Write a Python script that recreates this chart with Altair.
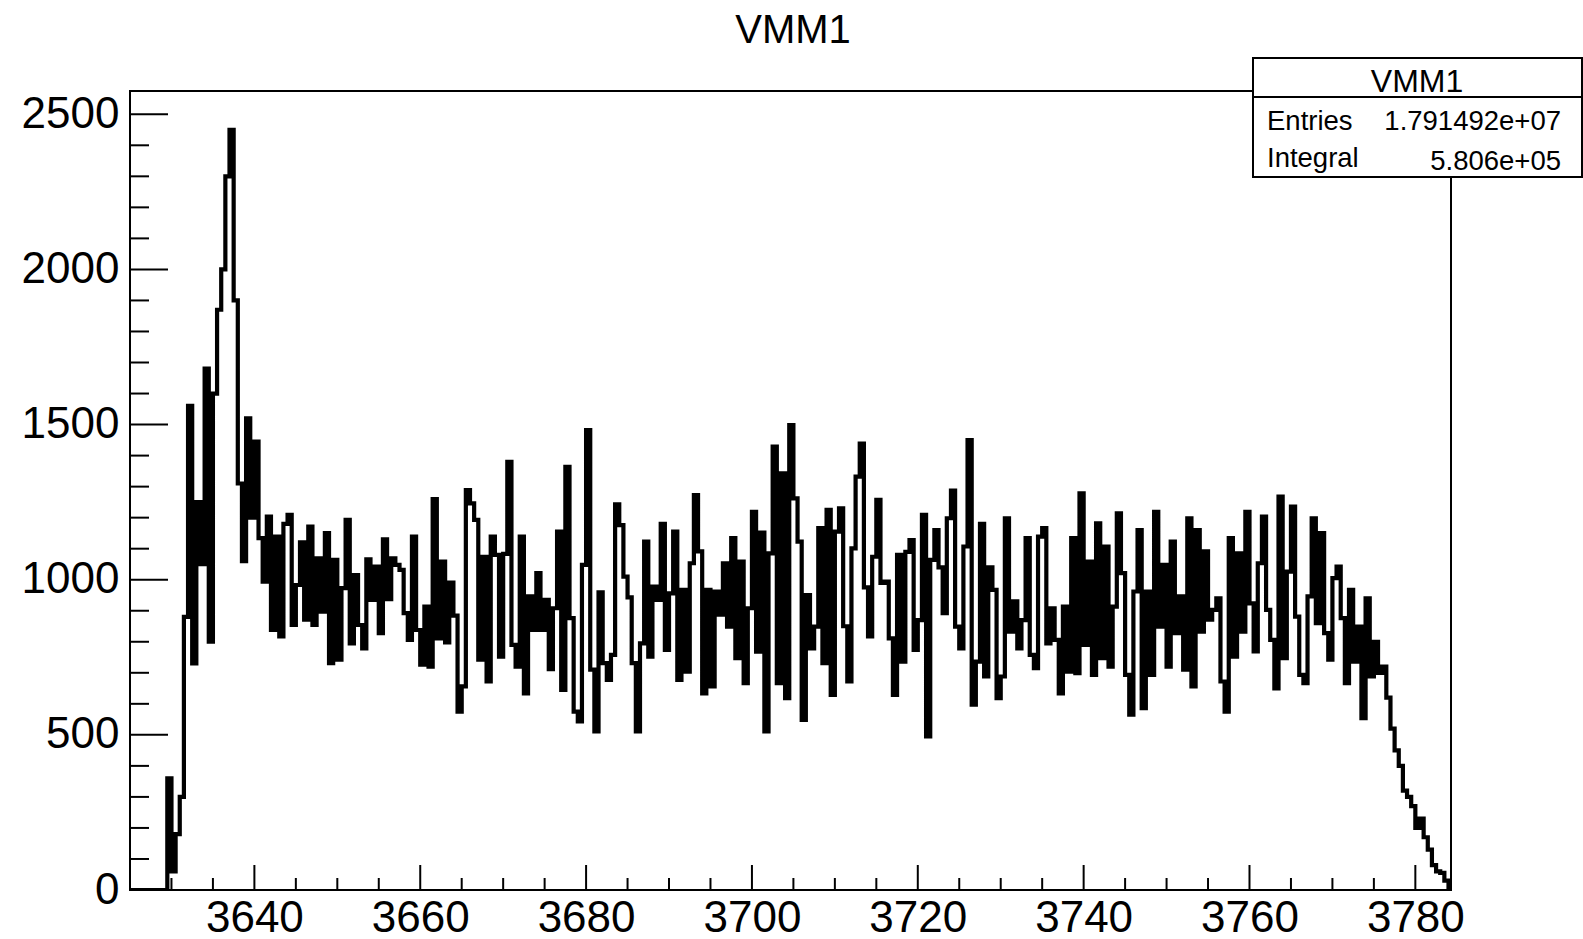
import altair as alt
import pandas as pd

# ---------------- data ----------------
BIN_START = 3625.0
BIN_WIDTH = 0.5

# bin contents, 0.5-wide bins starting at 3625
counts_3625 = [0, 0, 0, 0, 0, 0, 0, 0, 0, 360, 60, 180, 300, 880, 1560, 730, 1250, 1050, 1680, 800,
               1600, 1870, 2000, 2300, 2450, 1900, 1310, 1060, 1520, 1200]
counts_3640 = [1445, 1134, 994, 1203, 838, 1139, 817, 1180, 1209, 854, 983, 1120, 871, 1171, 854, 1069, 897, 1150, 731, 1064,
               742, 973, 1193, 795, 1015, 854, 779, 1066, 935, 1042, 828, 1130, 937, 1069, 1048, 1032, 892, 806, 1139, 838]
counts_3660 = [726, 913, 720, 1260, 811, 1058, 798, 991, 884, 575, 656, 1289, 1246, 1193, 742, 1074, 672, 1139, 1080, 752,
               1083, 1380, 790, 720, 1139, 634, 946, 838, 1021, 838, 935, 712, 908, 1155, 645, 1364, 876, 575, 543, 1048]
counts_3680 = [1482, 710, 511, 959, 731, 677, 758, 1243, 1176, 1010, 943, 731, 511, 795, 1123, 752, 978, 935, 1180, 774,
               956, 1155, 677, 967, 704, 1053, 1273, 1091, 634, 967, 656, 962, 887, 1053, 849, 1134, 747, 1058, 667, 908]
counts_3700 = [1219, 768, 1152, 511, 1085, 1429, 667, 1343, 618, 1498, 1262, 1123, 548, 950, 779, 849, 1166, 731, 1225, 629,
               1155, 1230, 850, 672, 1101, 1332, 1439, 975, 817, 1074, 1257, 990, 994, 811, 629, 1080, 736, 1090, 1128, 774]
counts_3720 = [870, 1209, 495, 1064, 1160, 1040, 892, 1198, 1287, 849, 779, 1107, 1450, 597, 736, 1180, 688, 1040, 967, 618,
               688, 1198, 833, 930, 779, 870, 1134, 758, 715, 1139, 1166, 795, 908, 806, 634, 913, 704, 1134, 699, 1278]
counts_3740 = [790, 1058, 693, 1182, 747, 1107, 720, 913, 1214, 1021, 693, 565, 962, 1160, 586, 962, 693, 1219, 849, 1048,
               720, 1123, 828, 946, 710, 1198, 656, 1160, 833, 1091, 871, 903, 940, 672, 575, 1134, 752, 1085, 833, 1219]
counts_3760 = [924, 769, 1053, 1203, 903, 806, 650, 1268, 747, 1026, 1236, 881, 693, 667, 946, 1198, 860, 1150, 828, 742,
               1005, 1042, 876, 667, 967, 736, 849, 554, 940, 688, 800, 700, 720, 620, 520, 450, 400, 320, 300, 270]
counts_3780 = [200, 230, 170, 130, 80, 60, 55, 30, 0]

counts = (counts_3625 + counts_3640 + counts_3660 + counts_3680 + counts_3700
          + counts_3720 + counts_3740 + counts_3760 + counts_3780)
edges = [BIN_START + BIN_WIDTH * i for i in range(len(counts) + 1)]
hist = pd.DataFrame({"x": edges, "count": counts + [counts[-1]]})

x_major = [3640, 3660, 3680, 3700, 3720, 3740, 3760, 3780]
x_minor = [3630, 3635, 3645, 3650, 3655, 3665, 3670, 3675, 3685, 3690, 3695, 3705, 3710, 3715,
           3725, 3730, 3735, 3745, 3750, 3755, 3765, 3770, 3775]
y_major = [0, 500, 1000, 1500, 2000, 2500]
y_minor = [100, 200, 300, 400, 600, 700, 800, 900, 1100, 1200, 1300, 1400, 1600, 1700, 1800, 1900,
           2100, 2200, 2300, 2400]

title_text = ["VMM1"]
stats_title = ["VMM1"]
stats_names = ["Entries", "Integral"]
stats_values = ["1.791492e+07", "5.806e+05"]

X_DOMAIN = [3625.0, 3784.3]
Y_DOMAIN = [0, 2575]

# ---------------- layout ----------------
W, H = 1321, 799
FONT = "Liberation Sans"

xs = alt.Scale(domain=X_DOMAIN, nice=False, zero=False)
ys = alt.Scale(domain=Y_DOMAIN, nice=False, zero=False)

xaxis = alt.Axis(values=x_major, format="d", ticks=False, domain=False, grid=False,
                 labelFontSize=44, labelFont=FONT, labelColor="black", labelPadding=6,
                 labelFlush=False, labelOverlap=False, title=None)
yaxis = alt.Axis(values=y_major, format="d", ticks=False, domain=False, grid=False,
                 labelFontSize=44, labelFont=FONT, labelColor="black", labelPadding=11,
                 labelFlush=False, labelOverlap=False, title=None)

line = alt.Chart(hist).mark_line(
    interpolate="step-after", color="black", strokeWidth=4.2, clip=True,
    strokeJoin="miter", strokeCap="square"
).encode(
    x=alt.X("x:Q", scale=xs, axis=xaxis),
    y=alt.Y("count:Q", scale=ys, axis=yaxis),
)

one = pd.DataFrame({"k": [0]})

frame = alt.Chart(one).mark_rect(filled=False, stroke="black", strokeWidth=2).encode(
    x=alt.value(0), x2=alt.value(W), y=alt.value(0), y2=alt.value(H)
)

ymaj = alt.Chart(pd.DataFrame({"count": y_major})).mark_rule(color="black", strokeWidth=2).encode(
    y=alt.Y("count:Q", scale=ys, axis=yaxis), x=alt.value(0), x2=alt.value(38)
)
ymin = alt.Chart(pd.DataFrame({"count": y_minor})).mark_rule(color="black", strokeWidth=2).encode(
    y=alt.Y("count:Q", scale=ys, axis=yaxis), x=alt.value(0), x2=alt.value(19)
)
xmaj = alt.Chart(pd.DataFrame({"x": x_major})).mark_rule(color="black", strokeWidth=2).encode(
    x=alt.X("x:Q", scale=xs, axis=xaxis), y=alt.value(H), y2=alt.value(H - 25)
)
xmin = alt.Chart(pd.DataFrame({"x": x_minor})).mark_rule(color="black", strokeWidth=2).encode(
    x=alt.X("x:Q", scale=xs, axis=xaxis), y=alt.value(H), y2=alt.value(H - 12)
)

# chart title (drawn as text so the stats box does not push it off the page)
title = alt.Chart(pd.DataFrame({"t": title_text})).mark_text(
    font=FONT, fontSize=40, color="black", align="center", baseline="alphabetic"
).encode(text="t:N", x=alt.value(663), y=alt.value(-48))

# stats box (ROOT style)
BOX_L, BOX_R, BOX_T, BOX_B, SEP = 1123, 1452, -33, 86, 6
box = alt.Chart(one).mark_rect(fill="white", stroke="black", strokeWidth=2).encode(
    x=alt.value(BOX_L), x2=alt.value(BOX_R), y=alt.value(BOX_T), y2=alt.value(BOX_B)
)
sep = alt.Chart(one).mark_rule(color="black", strokeWidth=2).encode(
    x=alt.value(BOX_L), x2=alt.value(BOX_R), y=alt.value(SEP)
)
stitle = alt.Chart(pd.DataFrame({"t": stats_title})).mark_text(
    font=FONT, fontSize=32, color="black", align="center", baseline="alphabetic"
).encode(text="t:N", x=alt.value(1287), y=alt.value(1))
sname1 = alt.Chart(pd.DataFrame({"t": stats_names[:1]})).mark_text(
    font=FONT, fontSize=27.5, color="black", align="left", baseline="alphabetic"
).encode(text="t:N", x=alt.value(1137), y=alt.value(39))
sname2 = alt.Chart(pd.DataFrame({"t": stats_names[1:]})).mark_text(
    font=FONT, fontSize=27.5, color="black", align="left", baseline="alphabetic"
).encode(text="t:N", x=alt.value(1137), y=alt.value(76))
sval1 = alt.Chart(pd.DataFrame({"t": stats_values[:1]})).mark_text(
    font=FONT, fontSize=27.5, color="black", align="right", baseline="alphabetic"
).encode(text="t:N", x=alt.value(1431), y=alt.value(39))
sval2 = alt.Chart(pd.DataFrame({"t": stats_values[1:]})).mark_text(
    font=FONT, fontSize=27.5, color="black", align="right", baseline="alphabetic"
).encode(text="t:N", x=alt.value(1431), y=alt.value(79))

chart = alt.layer(
    frame, ymaj, ymin, xmaj, xmin, line, title, box, sep, stitle, sname1, sname2, sval1, sval2
).properties(
    width=W, height=H,
    autosize=alt.AutoSizeParams(type="none"),
    padding={"left": 130, "top": 91, "right": 132, "bottom": 49},
    background="white",
).configure_view(stroke="transparent")

chart.save("out.html", embed_options={"renderer": "svg", "actions": False})
